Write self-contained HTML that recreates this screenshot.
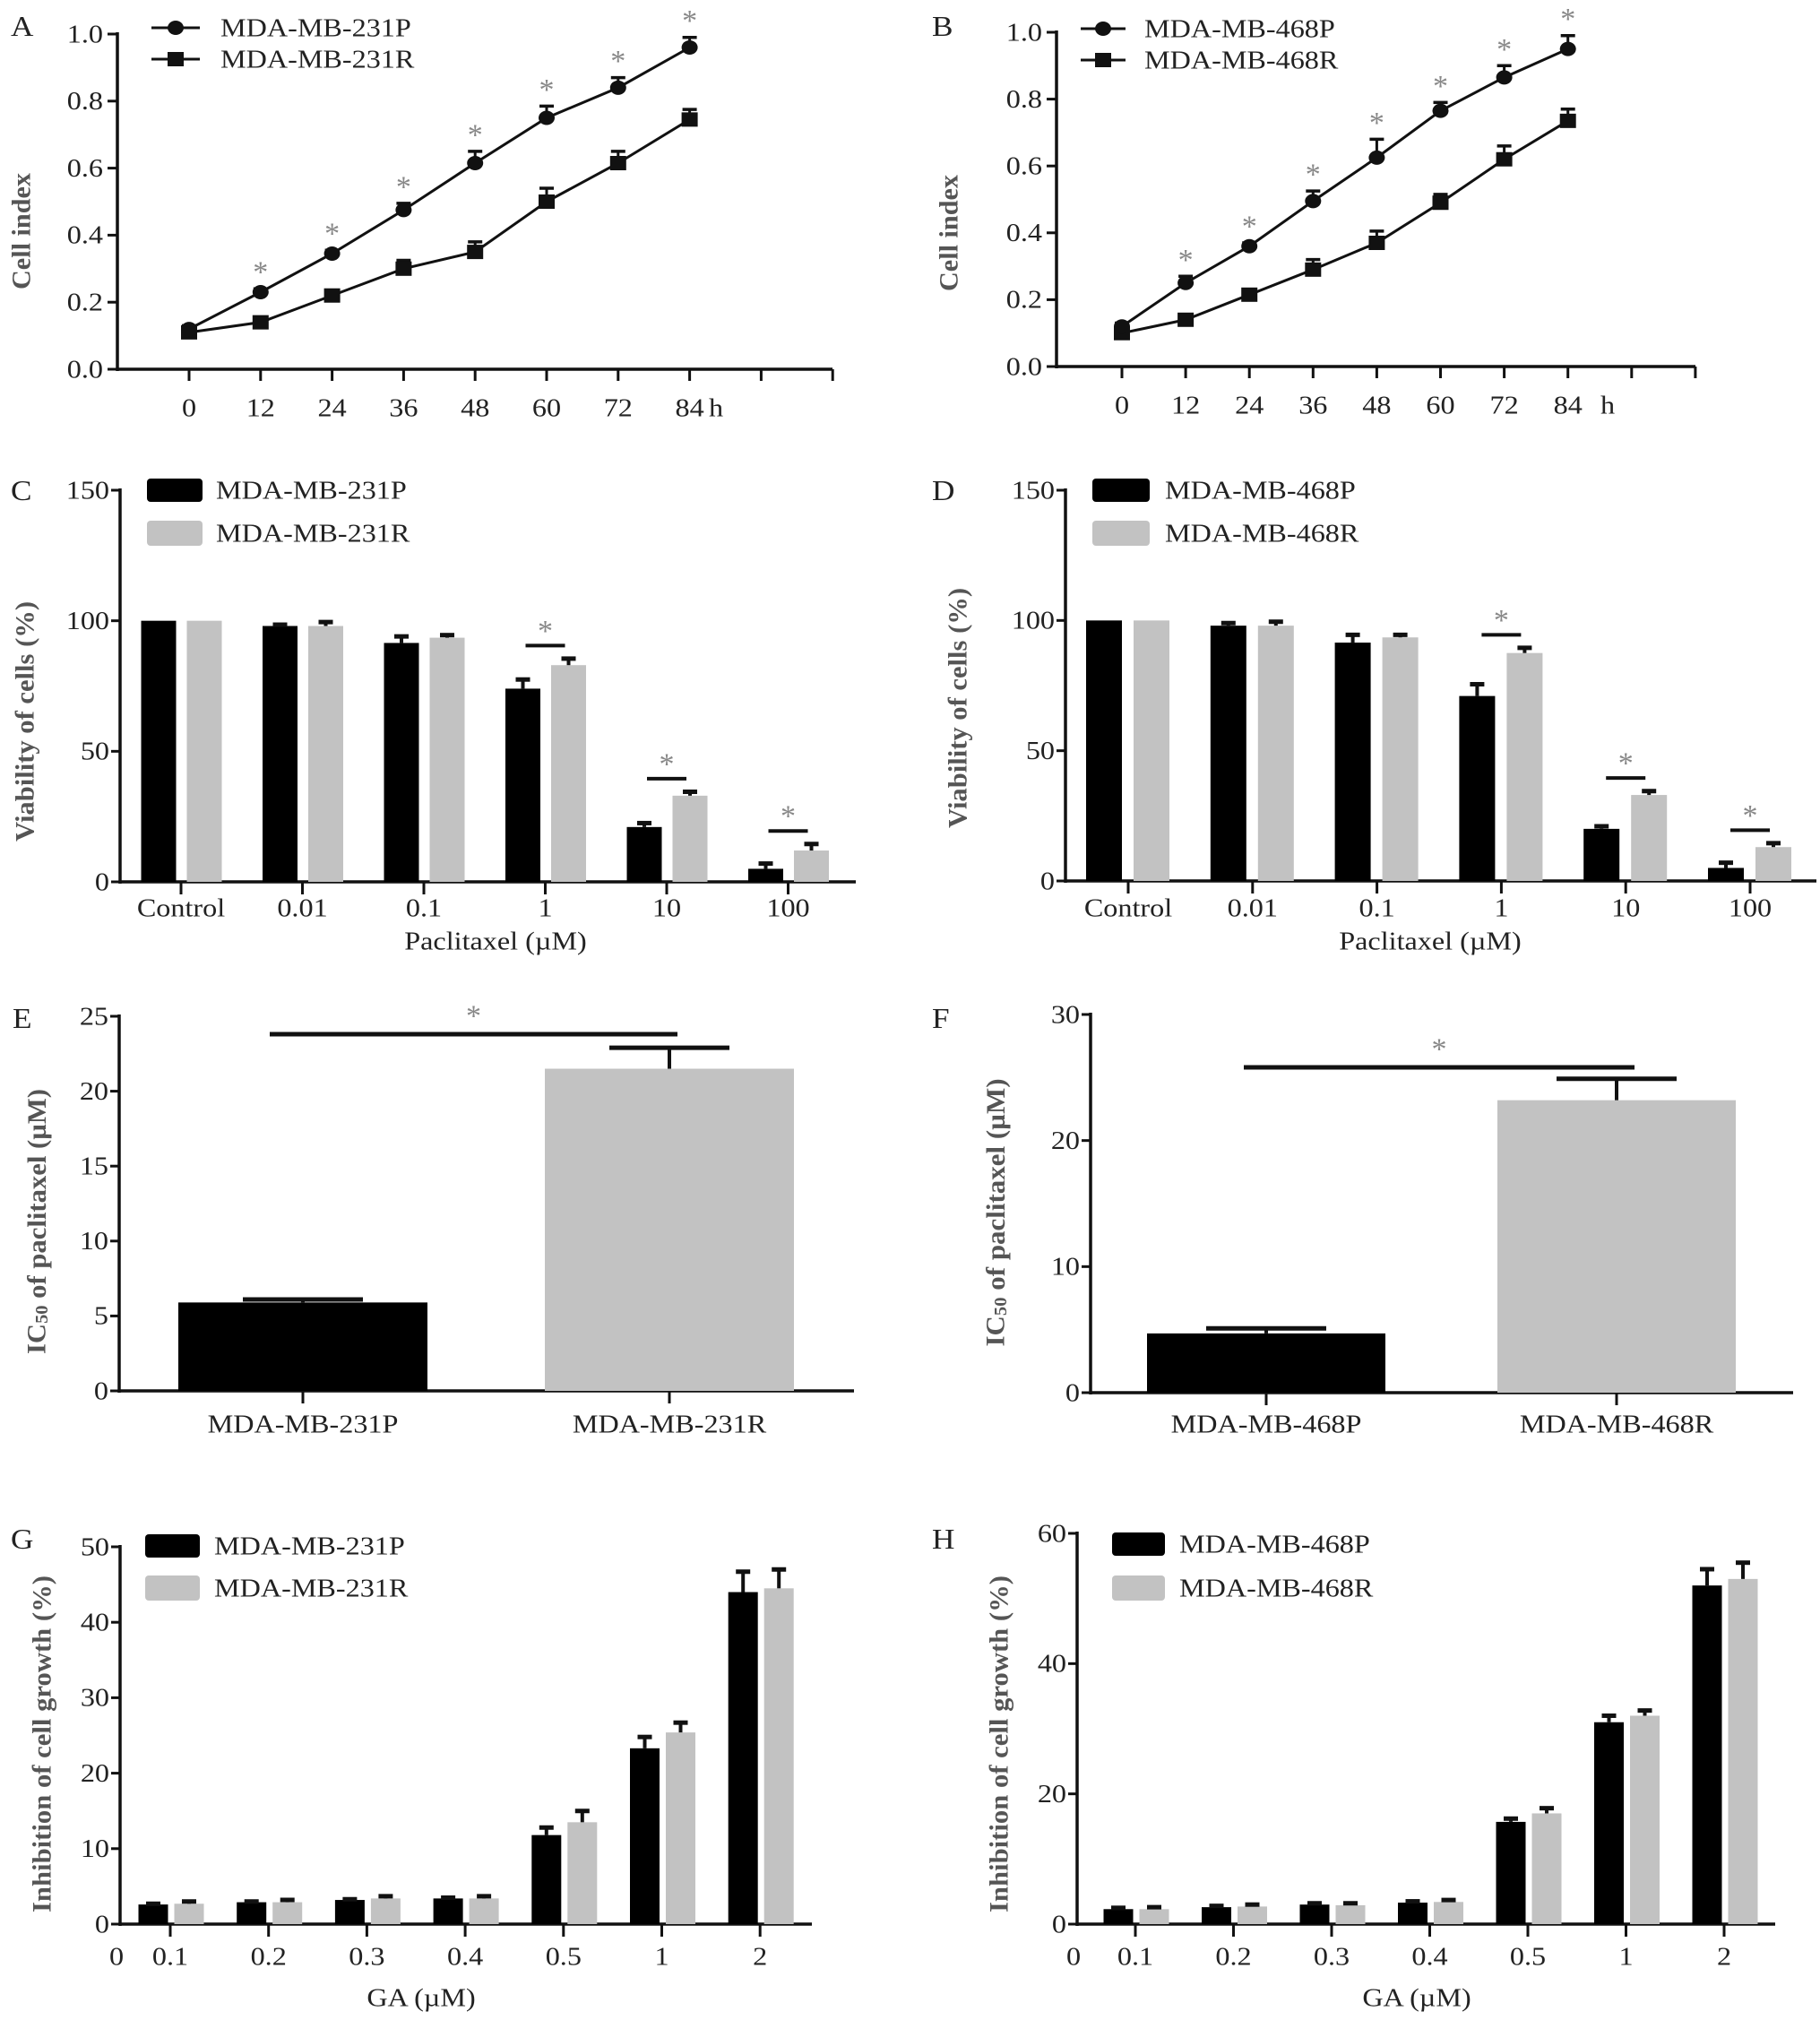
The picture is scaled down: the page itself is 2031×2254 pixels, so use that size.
<!DOCTYPE html>
<html><head><meta charset="utf-8"><style>
html,body{margin:0;padding:0;background:#fff}
svg{display:block}
text{font-family:"Liberation Serif",serif;fill:#222}
</style></head><body>
<svg id="fig" xmlns="http://www.w3.org/2000/svg" width="2031" height="2254" viewBox="0 0 2031 2254"></svg>
<script>
// ---- Panel A / B data (cell index vs hours) ----
const hours = [0,12,24,36,48,60,72,84];
const hourTicks = ["0","12","24","36","48","60","72","84"];
const cellTicks = [0,0.2,0.4,0.6,0.8,1.0];
const a231P = [0.12,0.23,0.345,0.475,0.615,0.75,0.84,0.96];
const a231Perr = [0.01,0.01,0.01,0.02,0.035,0.035,0.03,0.03];
const a231R = [0.11,0.14,0.22,0.30,0.35,0.50,0.615,0.745];
const a231Rerr = [0.01,0.01,0.01,0.025,0.03,0.04,0.035,0.03];
const b468P = [0.12,0.25,0.36,0.495,0.625,0.765,0.865,0.95];
const b468Perr = [0.01,0.02,0.01,0.03,0.055,0.025,0.035,0.04];
const b468R = [0.10,0.14,0.215,0.29,0.37,0.49,0.62,0.735];
const b468Rerr = [0.01,0.01,0.015,0.03,0.035,0.025,0.04,0.035];
// ---- Panel C / D data (viability) ----
const paclitaxelCats = ["Control","0.01","0.1","1","10","100"];
const viabTicks = [0,50,100,150];
const c231P = [100,98,91.5,74,21,5];
const c231Perr = [0,0.5,2.5,3.5,1.5,2];
const c231R = [100,98,93.5,83,33,12];
const c231Rerr = [0,1.5,1,2.5,1.5,2.5];
const cSig = [false,false,false,true,true,true];
const d468P = [100,98,91.5,71,20,5];
const d468Perr = [0,1,3,4.5,1,2];
const d468R = [100,98,93.5,87.5,33,13];
const d468Rerr = [0,1.5,1,2,1.5,1.5];
const dSig = [false,false,false,true,true,true];
// ---- Panel E / F data (IC50) ----
const e231Cats = ["MDA-MB-231P","MDA-MB-231R"];
const e231Vals = [5.9,21.5];
const e231Err = [0.2,1.4];
const e231Ticks = [0,5,10,15,20,25];
const f468Cats = ["MDA-MB-468P","MDA-MB-468R"];
const f468Vals = [4.7,23.2];
const f468Err = [0.4,1.7];
const f468Ticks = [0,10,20,30];
// ---- Panel G / H data (inhibition) ----
const gaCats = ["0.1","0.2","0.3","0.4","0.5","1","2"];
const g231P = [2.6,2.9,3.2,3.4,11.8,23.3,44];
const g231Perr = [0.1,0.1,0.1,0.1,1,1.5,2.7];
const g231R = [2.7,2.9,3.4,3.4,13.5,25.4,44.5];
const g231Rerr = [0.3,0.3,0.3,0.3,1.5,1.3,2.5];
const gTicks = [0,10,20,30,40,50];
const h468P = [2.3,2.6,3.0,3.3,15.7,31,52];
const h468Perr = [0.2,0.2,0.2,0.2,0.5,1,2.5];
const h468R = [2.3,2.7,2.9,3.4,17,32,53];
const h468Rerr = [0.3,0.3,0.3,0.3,0.8,0.8,2.5];
const hTicks = [0,20,40,60];

const NS = "http://www.w3.org/2000/svg";
const root = document.getElementById('fig');
const GRAY = "#c2c2c2";
function el(tag, attrs, parent, name) {
  const e = document.createElementNS(NS, tag);
  for (const k in attrs) e.setAttribute(k, attrs[k]);
  
  
  (parent || root).appendChild(e);
  return e;
}
function txt(p, x, y, str, size, anchor, name, opts) {
  opts = opts || {};
  const sx = opts.sx || 1.15;
  const t = el('text', {x:0, y:0, 'font-size':size, 'text-anchor':anchor||'middle', 'dominant-baseline':'central',
    transform:'translate('+x+','+y+') scale('+sx+',1)'}, p, name);
  if (opts.fill) t.style.fill = opts.fill;
  if (opts.weight) t.setAttribute('font-weight', opts.weight);
  t.textContent = str;
  return t;
}
function ytitle(p, x, y, str, len, name, sub) {
  const t = el('text', {x:0, y:0, 'font-size':30, 'font-weight':'bold', 'text-anchor':'middle', 'dominant-baseline':'central',
    transform:'translate('+x+','+y+') rotate(-90)', textLength:len, lengthAdjust:'spacingAndGlyphs'}, p, name);
  t.style.fill = '#555';
  if (sub) {
    t.appendChild(document.createTextNode('IC'));
    const s = document.createElementNS(NS,'tspan');
    s.setAttribute('font-size','20'); s.setAttribute('dy','6');
    s.textContent = '50';
    t.appendChild(s);
    const s2 = document.createElementNS(NS,'tspan');
    s2.setAttribute('dy','-6');
    s2.textContent = ' of paclitaxel (\u00b5M)';
    t.appendChild(s2);
  } else t.textContent = str;
  return t;
}
function line(p, x1, y1, x2, y2, w, name, color) {
  return el('line', {x1:x1, y1:y1, x2:x2, y2:y2, stroke:color||'#111', 'stroke-width':w}, p, name);
}
function star(p, x, y, name) {
  return txt(p, x, y, '*', 34, 'middle', name, {sx:1, fill:'#888'});
}

// ---------- line charts ----------
function lineChart(cfg, P, Pe, R, Re, legP, legR) {
  const g = el('g', {}, root, cfg.name);
  const xs = h => cfg.xZero + h * cfg.pxPerH;
  const ys = v => cfg.y0 - v * (cfg.y0 - cfg.y1);
  txt(g, cfg.letterX, 30, cfg.letter, 32, 'start', 'panel-label', {sx:1.1});
  line(g, cfg.axisX, cfg.y1 - 2, cfg.axisX, cfg.y0 + 2, 3.5, 'y-axis');
  line(g, cfg.axisX, cfg.y0, cfg.xEnd, cfg.y0, 3.5, 'x-axis');
  cellTicks.forEach(v => {
    line(g, cfg.axisX - 11, ys(v), cfg.axisX, ys(v), 3, 'y-tick');
    txt(g, cfg.axisX - 16, ys(v), v.toFixed(1), 28, 'end', 'y-tick-label', {sx:1.15});
  });
  const allTicks = hours.concat([96,108]);
  allTicks.forEach(h => line(g, xs(h), cfg.y0, xs(h), cfg.y0 + 13, 3, 'x-tick'));
  hours.forEach((h,i) => txt(g, xs(h), cfg.labelY, hourTicks[i], 28, 'middle', 'x-tick-label', {sx:1.15}));
  txt(g, cfg.hX, cfg.labelY, 'h', 28, 'middle', 'x-unit-label', {sx:1.15});
  ytitle(g, cfg.titleX, cfg.titleY, 'Cell index', 130, 'y-axis-title');
  [[R,Re,'sq'],[P,Pe,'ci']].forEach(([vals, errs, m]) => {
    el('polyline', {points: hours.map((h,i) => xs(h)+','+ys(vals[i])).join(' '), fill:'none', stroke:'#111', 'stroke-width':3}, g, 'series-line');
    hours.forEach((h,i) => {
      const x = xs(h), y = ys(vals[i]), ye = ys(vals[i] + errs[i]);
      line(g, x, y, x, ye, 3, 'error-bar');
      line(g, x - 8, ye, x + 8, ye, 3.5, 'error-cap');
      if (m === 'ci') el('ellipse', {cx:x, cy:y, rx:9, ry:8, fill:'#111'}, g, 'point-circle');
      else el('rect', {x:x-9, y:y-8, width:18, height:16, fill:'#111'}, g, 'point-square');
    });
  });
  hours.forEach((h,i) => { if (i > 0) star(g, xs(h), ys(P[i] + Pe[i]) - 18, 'significance-star'); });
  const lg = el('g', {}, g, 'legend');
  line(lg, cfg.legX1, cfg.legY1, cfg.legX2, cfg.legY1, 3, 'legend-line-p');
  el('ellipse', {cx:(cfg.legX1+cfg.legX2)/2, cy:cfg.legY1, rx:9, ry:8, fill:'#111'}, lg, 'legend-marker-p');
  txt(lg, cfg.legTX, cfg.legY1, legP, 28, 'start', 'legend-entry-p');
  line(lg, cfg.legX1, cfg.legY2, cfg.legX2, cfg.legY2, 3, 'legend-line-r');
  el('rect', {x:(cfg.legX1+cfg.legX2)/2-9, y:cfg.legY2-8, width:18, height:16, fill:'#111'}, lg, 'legend-marker-r');
  txt(lg, cfg.legTX, cfg.legY2, legR, 28, 'start', 'legend-entry-r');
}
lineChart({name:'panel-a', letter:'A', letterX:12, axisX:131, xEnd:929, xZero:211, pxPerH:79.8/12, y0:412, y1:38, labelY:455, hX:799,
  titleX:24, titleY:258, legX1:169, legX2:223, legTX:246, legY1:31, legY2:66}, a231P, a231Perr, a231R, a231Rerr, 'MDA-MB-231P', 'MDA-MB-231R');
lineChart({name:'panel-b', letter:'B', letterX:1040, axisX:1179, xEnd:1892, xZero:1252, pxPerH:71.1/12, y0:409, y1:36, labelY:452, hX:1794,
  titleX:1059, titleY:260, legX1:1206, legX2:1256, legTX:1277, legY1:32, legY2:67}, b468P, b468Perr, b468R, b468Rerr, 'MDA-MB-468P', 'MDA-MB-468R');

// ---------- grouped bar charts ----------
function barChart(cfg, cats, ticks, P, Pe, R, Re, sig, legP, legR) {
  const g = el('g', {}, root, cfg.name);
  const ys = v => cfg.y0 - v / cfg.vmax * (cfg.y0 - cfg.yTop);
  const cx = i => cfg.cat0 + i * cfg.step;
  txt(g, cfg.letterX, cfg.letterY, cfg.letter, 32, 'start', 'panel-label', {sx:1.1});
  line(g, cfg.axisX, cfg.yTop - 2, cfg.axisX, cfg.y0 + 2, 3.5, 'y-axis');
  line(g, cfg.axisX, cfg.y0, cfg.xEnd, cfg.y0, 3.5, 'x-axis');
  ticks.forEach(v => {
    line(g, cfg.axisX - 10, ys(v), cfg.axisX, ys(v), 3, 'y-tick');
    txt(g, cfg.axisX - 12, ys(v), String(v), 28, 'end', 'y-tick-label', {sx:1.15});
  });
  if (cfg.zeroLabel) txt(g, cfg.axisX - 4, cfg.labelY, '0', 28, 'middle', 'x-origin-label', {sx:1.15});
  cats.forEach((c,i) => {
    line(g, cx(i), cfg.y0, cx(i), cfg.y0 + 14, 3, 'x-tick');
    txt(g, cx(i), cfg.labelY, c, 28, 'middle', 'x-tick-label', {sx:1.15});
    [[P,Pe,cfg.offP,'#000','bar-p'],[R,Re,cfg.offR,GRAY,'bar-r']].forEach(([vals,errs,off,col,nm]) => {
      const bx = cx(i) + off;
      el('rect', {x:bx - cfg.barW/2, y:ys(vals[i]), width:cfg.barW, height:cfg.y0 - ys(vals[i]), fill:col}, g, nm);
      if (errs[i] > 0) {
        const ye = ys(vals[i] + errs[i]);
        line(g, bx, ys(vals[i]), bx, ye, 4, 'error-bar');
        line(g, bx - 8, ye, bx + 8, ye, 5, 'error-cap');
      }
    });
    if (sig && sig[i]) {
      const ly = ys(R[i] + Re[i] + 5);
      line(g, cx(i) - 22, ly, cx(i) + 22, ly, 4, 'significance-line');
      star(g, cx(i), ly - 16, 'significance-star');
    }
  });
  txt(g, cfg.xtX, cfg.xtY, cfg.xtitle, 28, 'middle', 'x-axis-title');
  ytitle(g, cfg.titleX, cfg.titleY, cfg.ytitle, cfg.titleLen, 'y-axis-title');
  const lg = el('g', {}, g, 'legend');
  el('rect', {x:cfg.legX, y:cfg.legY1, width:cfg.legW, height:26, rx:4, fill:'#000'}, lg, 'legend-swatch-p');
  txt(lg, cfg.legTX, cfg.legY1 + 13, legP, 28, 'start', 'legend-entry-p');
  el('rect', {x:cfg.legX, y:cfg.legY2, width:cfg.legW, height:28, rx:4, fill:GRAY}, lg, 'legend-swatch-r');
  txt(lg, cfg.legTX, cfg.legY2 + 14, legR, 28, 'start', 'legend-entry-r');
}
barChart({name:'panel-c', letter:'C', letterX:12, letterY:548, axisX:134, xEnd:955, y0:984, yTop:547, vmax:150, cat0:202, step:135.5,
  offP:-25, offR:26, barW:39, labelY:1013, xtitle:'Paclitaxel (\u00b5M)', xtX:553, xtY:1050, ytitle:'Viability of cells (%)', titleX:28, titleY:805, titleLen:268,
  legX:164, legW:62, legY1:534, legY2:581, legTX:241}, paclitaxelCats, viabTicks, c231P, c231Perr, c231R, c231Rerr, cSig, 'MDA-MB-231P', 'MDA-MB-231R');
barChart({name:'panel-d', letter:'D', letterX:1040, letterY:548, axisX:1189, xEnd:2027, y0:983, yTop:547, vmax:150, cat0:1259, step:138.8,
  offP:-27, offR:26, barW:40, labelY:1013, xtitle:'Paclitaxel (\u00b5M)', xtX:1596, xtY:1050, ytitle:'Viability of cells (%)', titleX:1069, titleY:790, titleLen:268,
  legX:1219, legW:64, legY1:534, legY2:581, legTX:1300}, paclitaxelCats, viabTicks, d468P, d468Perr, d468R, d468Rerr, dSig, 'MDA-MB-468P', 'MDA-MB-468R');
barChart({name:'panel-g', letter:'G', letterX:12, letterY:1718, axisX:134, xEnd:906, y0:2147, yTop:1726, vmax:50, cat0:190, step:109.7,
  offP:-19, offR:21, barW:33, labelY:2183, zeroLabel:true, xtitle:'GA (\u00b5M)', xtX:470, xtY:2229, ytitle:'Inhibition of cell growth (%)', titleX:47, titleY:1946, titleLen:376,
  legX:162, legW:61, legY1:1712, legY2:1758, legTX:239}, gaCats, gTicks, g231P, g231Perr, g231R, g231Rerr, null, 'MDA-MB-231P', 'MDA-MB-231R');
barChart({name:'panel-h', letter:'H', letterX:1040, letterY:1718, axisX:1202, xEnd:1981, y0:2147, yTop:1711, vmax:60, cat0:1267, step:109.5,
  offP:-19, offR:21, barW:33, labelY:2183, zeroLabel:true, xtitle:'GA (\u00b5M)', xtX:1581, xtY:2229, ytitle:'Inhibition of cell growth (%)', titleX:1115, titleY:1946, titleLen:376,
  legX:1241, legW:59, legY1:1710, legY2:1758, legTX:1316}, gaCats, hTicks, h468P, h468Perr, h468R, h468Rerr, null, 'MDA-MB-468P', 'MDA-MB-468R');

// ---------- IC50 charts ----------
function icChart(cfg, cats, vals, errs, ticks) {
  const g = el('g', {}, root, cfg.name);
  const ys = v => cfg.y0 - v / cfg.vmax * (cfg.y0 - cfg.yTop);
  txt(g, cfg.letterX, cfg.letterY, cfg.letter, 32, 'start', 'panel-label', {sx:1.1});
  line(g, cfg.axisX, cfg.yTop - 2, cfg.axisX, cfg.y0 + 2, 3.5, 'y-axis');
  line(g, cfg.axisX, cfg.y0, cfg.xEnd, cfg.y0, 3.5, 'x-axis');
  ticks.forEach(v => {
    line(g, cfg.axisX - 10, ys(v), cfg.axisX, ys(v), 3, 'y-tick');
    txt(g, cfg.axisX - 12, ys(v), String(v), 28, 'end', 'y-tick-label', {sx:1.15});
  });
  cats.forEach((c,i) => {
    const x = cfg.xs[i];
    el('rect', {x:x - cfg.barW/2, y:ys(vals[i]), width:cfg.barW, height:cfg.y0 - ys(vals[i]), fill:i ? GRAY : '#000'}, g, i ? 'bar-r' : 'bar-p');
    const ye = ys(vals[i] + errs[i]);
    line(g, x, ys(vals[i]), x, ye, 4, 'error-bar');
    line(g, x - 67, ye, x + 67, ye, 5, 'error-cap');
    line(g, x, cfg.y0, x, cfg.y0 + 14, 3, 'x-tick');
    txt(g, x, cfg.labelY, c, 28, 'middle', 'x-tick-label');
  });
  line(g, cfg.sigX1, cfg.sigY, cfg.sigX2, cfg.sigY, 5, 'significance-line');
  star(g, (cfg.sigX1 + cfg.sigX2)/2, cfg.sigY - 20, 'significance-star');
  ytitle(g, cfg.titleX, cfg.titleY, '', cfg.titleLen, 'y-axis-title', true);
}
icChart({name:'panel-e', letter:'E', letterX:14, letterY:1137, axisX:133, xEnd:953, y0:1552, yTop:1134, vmax:25, xs:[338,747], barW:278,
  labelY:1589, sigX1:301, sigX2:756, sigY:1154, titleX:41, titleY:1363, titleLen:296}, e231Cats, e231Vals, e231Err, e231Ticks);
icChart({name:'panel-f', letter:'F', letterX:1040, letterY:1137, axisX:1217, xEnd:2001, y0:1554, yTop:1132, vmax:30, xs:[1413,1804], barW:266,
  labelY:1589, sigX1:1388, sigX2:1824, sigY:1191, titleX:1111, titleY:1353, titleLen:299}, f468Cats, f468Vals, f468Err, f468Ticks);
</script>
</body></html>
